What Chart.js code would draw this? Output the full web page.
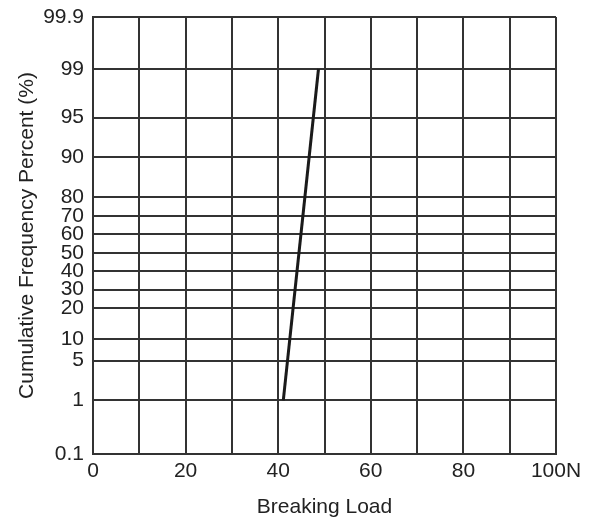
<!DOCTYPE html>
<html>
<head>
<meta charset="utf-8">
<title>Breaking Load</title>
<script src="https://cdn.jsdelivr.net/npm/chart.js@4.4.1/dist/chart.umd.min.js"></script>
<style>
  html, body { margin: 0; padding: 0; background: #fff; }
  #wrap { width: 598px; height: 520px; }
</style>
</head>
<body>
<div id="wrap"><canvas id="chart" width="598" height="520"></canvas></div>
<script>
// --- Data ---
const loadValues = [41.1, 48.7];          // N
const cumulativePercent = [1, 99];        // %
const xTicks = [0, 10, 20, 30, 40, 50, 60, 70, 80, 90, 100];
const yTicks = [0.1, 1, 5, 10, 20, 30, 40, 50, 60, 70, 80, 90, 95, 99, 99.9];

// ruling of the probability paper: where each y tick sits along the axis (0 = bottom, 1 = top)
const yRuling = [0, 0.1229, 0.2135, 0.2625, 0.3334, 0.3760, 0.4188, 0.4606,
                 0.5027, 0.5453, 0.5874, 0.6796, 0.7696, 0.8810, 1];

// piecewise-linear lookup between the ruled lines
function lookup(v, from, to) {
    if (v <= from[0]) return to[0];
    for (let i = 1; i < from.length; i++) {
        if (v <= from[i]) {
            const t = (v - from[i - 1]) / (from[i] - from[i - 1]);
            return to[i - 1] + t * (to[i] - to[i - 1]);
        }
    }
    return to[to.length - 1];
}

// --- Probability scale ---
class ProbabilityScale extends Chart.Scale {
    determineDataLimits() {
        this.min = yTicks[0];
        this.max = yTicks[yTicks.length - 1];
    }
    buildTicks() {
        return yTicks.map(value => ({ value }));
    }
    getPixelForValue(value) {
        return this.getPixelForDecimal(lookup(value, yTicks, yRuling));
    }
    getValueForPixel(pixel) {
        return lookup(this.getDecimalForPixel(pixel), yRuling, yTicks);
    }
}
ProbabilityScale.id = 'probability';
ProbabilityScale.defaults = {};
Chart.register(ProbabilityScale);

const FONT = "'Liberation Sans', Arial, Helvetica, sans-serif";
const INK = '#222';
const GRID = '#333';

const points = loadValues.map((x, i) => ({ x, y: cumulativePercent[i] }));

new Chart(document.getElementById('chart').getContext('2d'), {
    type: 'line',
    data: {
        datasets: [{
            data: points,
            borderColor: '#1a1a1a',
            borderWidth: 3,
            pointRadius: 0,
            fill: false,
            tension: 0
        }]
    },
    options: {
        responsive: false,
        animation: false,
        layout: { padding: { left: 0, right: 42, top: 17, bottom: 0 } },
        plugins: { legend: { display: false }, tooltip: { enabled: false } },
        scales: {
            x: {
                type: 'linear',
                min: 0,
                max: 100,
                afterBuildTicks: (scale) => { scale.ticks = xTicks.map(value => ({ value })); },
                afterFit: (scale) => {
                    scale.height = 66;
                    scale.paddingLeft = 0;
                    scale.paddingRight = 0;
                },
                grid: { color: GRID, lineWidth: 2, drawTicks: false },
                border: { color: GRID, width: 2 },
                ticks: {
                    autoSkip: false,
                    maxRotation: 0,
                    padding: 5,
                    color: INK,
                    font: { family: FONT, size: 21 },
                    callback: (v) => v % 20 !== 0 ? '' : (v === 100 ? '100N' : String(v))
                },
                title: {
                    display: true,
                    text: 'Breaking Load',
                    color: INK,
                    font: { family: FONT, size: 21 },
                    padding: { top: 9, bottom: 0 }
                }
            },
            y: {
                type: 'probability',
                afterFit: (scale) => {
                    scale.width = 93;
                    scale.paddingTop = 0;
                    scale.paddingBottom = 0;
                },
                grid: { color: GRID, lineWidth: 2, drawTicks: false },
                border: { color: GRID, width: 2 },
                ticks: {
                    autoSkip: false,
                    padding: 9,
                    color: INK,
                    font: { family: FONT, size: 21 }
                },
                title: {
                    display: true,
                    text: 'Cumulative Frequency Percent (%)',
                    color: INK,
                    font: { family: FONT, size: 21 },
                    padding: { top: 15, bottom: 0 }
                }
            }
        }
    }
});
</script>
</body>
</html>
